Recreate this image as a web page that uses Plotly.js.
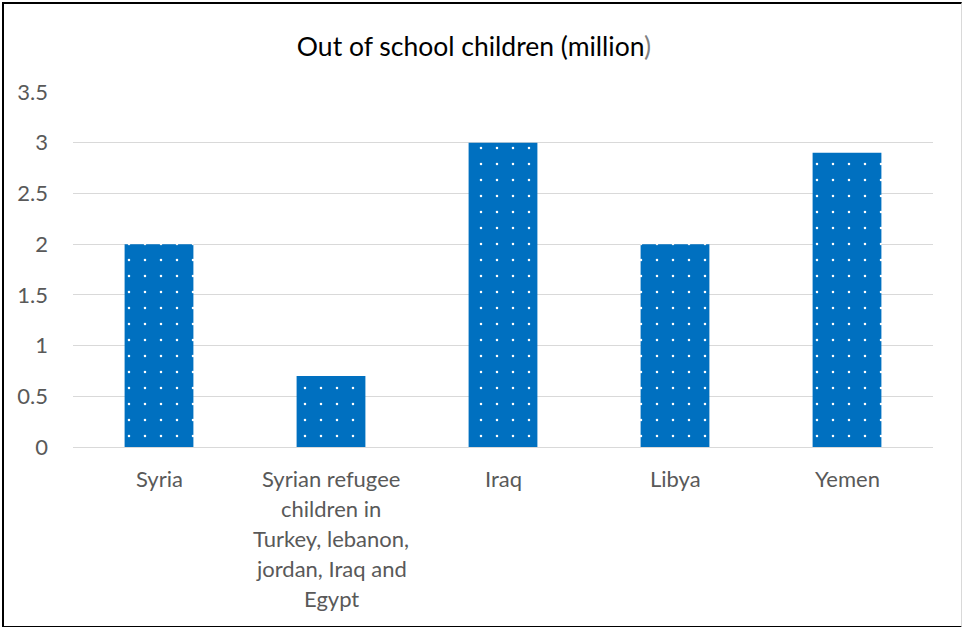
<!DOCTYPE html>
<html>
<head>
<meta charset="utf-8">
<script src="https://cdn.plot.ly/plotly-3.0.1.min.js"></script>
<style>
  html, body { margin: 0; padding: 0; background: #fff; }
  #wrap { position: relative; width: 962px; height: 627px; }
  #chart { position: absolute; left: 0; top: 0; width: 962px; height: 627px; }
  #frame { position: absolute; left: 2px; top: 2px; width: 957px; height: 622px;
           border-left: 2px solid #000; border-top: 2px solid #000; border-bottom: 2px solid #000;
           border-right: 1px solid #d9d9d9; pointer-events: none; }
</style>
</head>
<body>
<div id="wrap">
  <div id="chart"></div>
  <div id="frame"></div>
</div>
<script>
const categories = ["Syria", "Syrian refugee<br>children in<br>Turkey, lebanon,<br>jordan, Iraq and<br>Egypt", "Iraq", "Libya", "Yemen"];
const values = [2, 0.7, 3, 2, 2.9];
const yTicks = [0, 0.5, 1, 1.5, 2, 2.5, 3, 3.5];
const titleText = 'Out of school children (million<span style="color:#7f7f7f">)</span>';

const FONT = 'Lato, "Open Sans", sans-serif';
const BLUE = '#0070C0';

const annotations = [];
categories.forEach((c) => {
  c.split('<br>').forEach((line, i) => {
    annotations.push({
      x: c, y: 0, xref: 'x', yref: 'y',
      text: line, showarrow: false,
      xanchor: 'center', yanchor: 'middle',
      yshift: -31 - 30 * i,
      font: { family: FONT, size: 22, color: '#595959' }
    });
  });
});

const trace = {
  type: 'bar',
  x: categories,
  y: values,
  marker: {
    color: BLUE,
    line: { width: 0 },
    pattern: { shape: '.', fgcolor: '#ffffff', bgcolor: BLUE, size: 16, solidity: 0.02, fillmode: 'replace' }
  },
  hoverinfo: 'x+y'
};

const layout = {
  width: 962, height: 627,
  margin: { l: 73, r: 29, t: 92, b: 180, pad: 0 },
  paper_bgcolor: '#ffffff', plot_bgcolor: '#ffffff',
  showlegend: false,
  bargap: 0.6,
  title: {
    text: titleText,
    x: 474 / 962, xref: 'container', xanchor: 'center',
    y: 1 - 47 / 627, yref: 'container', yanchor: 'middle',
    font: { family: FONT, size: 26.5, color: '#000000' }
  },
  xaxis: {
    type: 'category',
    showticklabels: false,
    showgrid: false, zeroline: false,
    showline: true, linecolor: '#d9d9d9', linewidth: 1,
    ticks: ''
  },
  yaxis: {
    range: [0, 3.5],
    tickvals: yTicks,
    ticktext: yTicks.map(String),
    showgrid: true, gridcolor: '#d9d9d9', gridwidth: 1,
    zeroline: false, showline: false,
    ticks: '',
    ticklabelstandoff: 24,
    tickfont: { family: FONT, size: 22, color: '#595959' }
  },
  annotations: annotations
};

Plotly.newPlot('chart', [trace], layout, { displayModeBar: false, staticPlot: true });
</script>
</body>
</html>
